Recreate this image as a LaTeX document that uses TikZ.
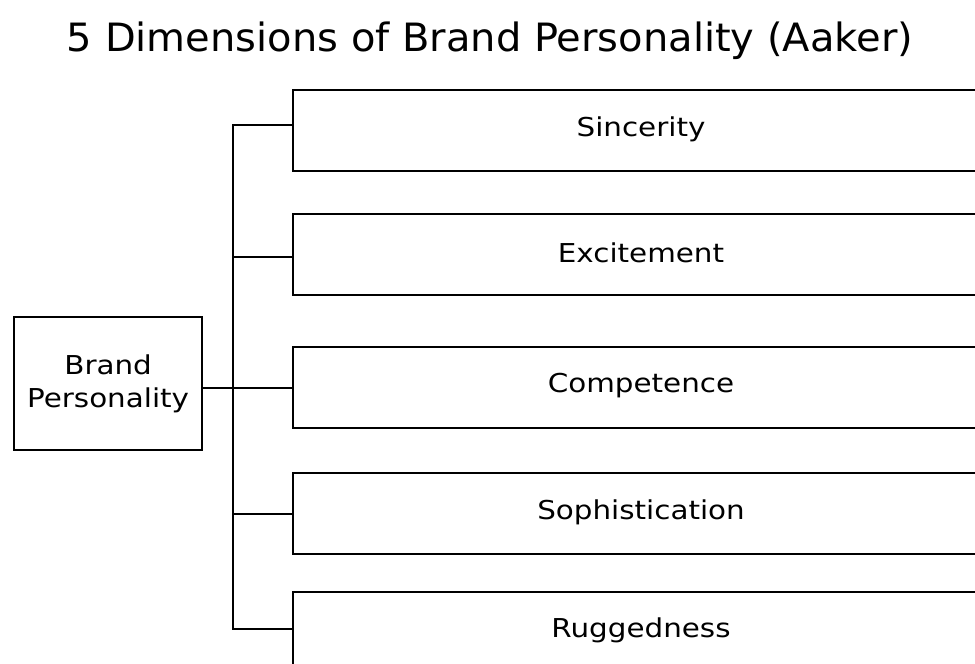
\documentclass[tikz,border=0pt]{standalone}
\usepackage{fontspec}
\setmainfont{DejaVu Sans}
\newfontfamily\labelfont[FakeStretch=1.13]{DejaVu Sans}
\newfontfamily\headfont[FakeStretch=1.025]{DejaVu Sans}
\begin{document}
\begin{tikzpicture}[x=1pt,y=-1pt,
  line/.style={line width=2.2pt,black},
  dimbox/.style={draw,line width=2.2pt,minimum width=700pt,minimum height=81pt,anchor=north west,inner sep=0pt},
  dimlabel/.style={font=\labelfont\fontsize{26}{30}\selectfont},
  rootbox/.style={draw,line width=2.2pt,minimum width=188pt,minimum height=133pt,anchor=north west,align=center,inner sep=0pt,font=\labelfont\fontsize{26}{33}\selectfont},
  titletext/.style={font=\headfont\fontsize{39}{44}\selectfont}]
\useasboundingbox (0,0) rectangle (975,664);
\clip (0,0) rectangle (975,664);

% heading
\node[titletext] (title) at (490,41) {5 Dimensions of Brand Personality (Aaker)};

% root box
\node[rootbox] (root) at (13,316) {Brand\\Personality};

% dimension boxes (they run past the right edge)
\node[dimbox] (b1) at (292,89) {};
\node[dimbox] (b2) at (292,213) {};
\node[dimbox] (b3) at (292,346) {};
\node[dimbox] (b4) at (292,472) {};
\node[dimbox] (b5) at (292,591) {};

\node[dimlabel] (l1) at (641,129) {Sincerity};
\node[dimlabel] (l2) at (641,253) {Excitement};
\node[dimlabel] (l3) at (641,386) {Competence};
\node[dimlabel] (l4) at (641,512) {Sophistication};
\node[dimlabel] (l5) at (641,630) {Ruggedness};

% trunk and branches
\coordinate (t1) at (233,125);
\coordinate (t2) at (233,257);
\coordinate (t4) at (233,514);
\coordinate (t5) at (233,629);
\draw[line] (b1.west |- t1) -- (t1) -- (t5) -- (b5.west |- t5);
\draw[line] (t2) -- (b2.west |- t2);
\draw[line] (root.east |- 0,388) -- (b3.west |- 0,388);
\draw[line] (t4) -- (b4.west |- t4);
\end{tikzpicture}
\end{document}
